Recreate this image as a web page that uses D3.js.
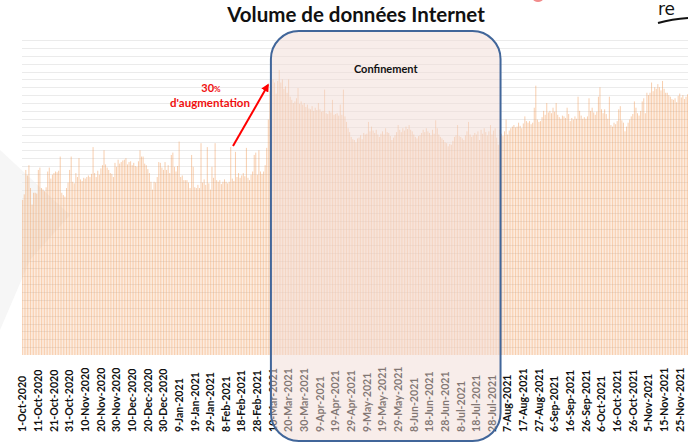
<!DOCTYPE html>
<html>
<head>
<meta charset="utf-8">
<script src="https://cdn.jsdelivr.net/npm/d3@7"></script>
<style>
  body { margin: 0; background: #fff; }
  svg { display: block; font-family: Lato, "Open Sans", sans-serif; }
</style>
</head>
<body>
<script>
var width = 688;
var height = 443;

// premier jour de la série
var startDate = new Date(2020, 9, 1);

// volume journalier, un rang = 10 jours
var volume = [
  19.7, 20.4, 23.5, 22.8, 24.1, 21.2, 19.1, 20.6, 20.6, 20.5,
  23.5, 23.8, 21.2, 21.0, 20.8, 21.3, 23.3, 23.8, 22.4, 22.9,
  23.1, 23.3, 23.2, 23.4, 25.2, 20.6, 20.3, 20.1, 21.2, 21.9,
  23.5, 25.2, 22.0, 21.8, 23.1, 22.6, 25.0, 22.3, 22.1, 22.5,
  22.4, 22.6, 22.8, 22.6, 23.0, 26.4, 23.1, 22.6, 23.4, 22.9,
  23.7, 24.1, 26.0, 24.2, 23.8, 23.5, 23.1, 23.0, 22.6, 24.4,
  23.9, 24.8, 24.3, 24.5, 24.7, 24.8, 25.0, 24.2, 24.5, 24.6,
  24.1, 24.4, 24.0, 23.9, 24.6, 26.0, 25.2, 25.2, 24.3, 24.1,
  23.6, 23.1, 22.0, 21.0, 22.0, 21.9, 22.6, 24.5, 24.4, 23.8,
  23.5, 24.5, 23.5, 24.1, 23.1, 25.4, 25.7, 23.9, 23.3, 24.0,
  27.1, 22.6, 22.8, 22.2, 22.2, 22.2, 21.9, 21.2, 25.4, 23.9,
  21.3, 21.2, 21.6, 21.2, 26.9, 21.9, 22.3, 21.6, 26.4, 21.8,
  21.0, 23.9, 22.5, 26.9, 22.2, 22.0, 22.2, 21.7, 22.0, 22.3,
  22.0, 21.8, 22.0, 26.4, 22.4, 22.1, 25.8, 22.6, 23.1, 22.5,
  22.8, 23.1, 22.7, 26.3, 22.5, 22.2, 22.9, 23.3, 25.4, 25.7,
  22.9, 26.0, 23.3, 23.0, 23.3, 24.1, 26.3, 29.9, 33.5, 34.2,
  35.0, 34.6, 33.2, 34.8, 36.2, 34.6, 35.0, 33.8, 34.1, 33.3,
  35.0, 32.8, 32.4, 32.0, 32.2, 32.6, 33.9, 31.9, 32.2, 31.8,
  32.0, 31.5, 31.8, 31.3, 31.2, 31.6, 31.0, 31.4, 31.1, 32.0,
  31.2, 30.9, 31.0, 33.7, 30.7, 30.6, 31.0, 30.8, 32.4, 30.5,
  30.6, 30.7, 30.4, 31.8, 30.5, 33.7, 30.3, 29.6, 28.8, 28.3,
  27.7, 27.4, 27.3, 27.0, 27.5, 27.6, 27.9, 27.4, 28.2, 28.0,
  28.1, 29.6, 28.4, 29.0, 28.5, 28.2, 28.6, 28.0, 27.7, 28.1,
  28.4, 28.0, 28.8, 28.3, 28.2, 27.8, 27.3, 27.6, 27.9, 28.3,
  29.2, 28.6, 28.3, 28.8, 28.5, 29.0, 28.7, 29.2, 28.6, 28.4,
  28.0, 27.7, 27.5, 27.8, 27.9, 28.2, 28.6, 28.3, 28.8, 28.4,
  28.2, 27.9, 28.6, 28.1, 29.8, 28.8, 28.0, 27.7, 27.5, 27.3,
  27.0, 26.9, 26.5, 26.8, 26.7, 27.2, 27.7, 27.9, 29.2, 27.8,
  27.7, 27.5, 27.3, 27.9, 28.4, 29.6, 28.0, 27.7, 27.9, 28.2,
  28.0, 28.4, 27.3, 28.6, 28.1, 28.8, 28.3, 27.9, 28.4, 29.2,
  28.0, 28.5, 28.8, 27.6, 26.7, 28.6, 28.1, 27.8, 28.4, 29.9,
  28.0, 28.5, 28.8, 29.0, 29.2, 28.9, 29.0, 29.5, 29.1, 28.8,
  29.4, 30.3, 29.7, 29.5, 29.7, 29.3, 29.5, 31.4, 34.2, 29.9,
  29.6, 29.7, 30.2, 31.0, 30.5, 32.0, 30.8, 31.0, 30.7, 31.4,
  30.9, 32.0, 30.5, 30.2, 30.0, 30.4, 30.3, 30.1, 31.4, 30.6,
  29.7, 30.1, 29.9, 30.3, 30.0, 32.8, 31.0, 30.4, 30.0, 30.2,
  30.0, 30.3, 32.6, 31.0, 31.4, 30.8, 30.5, 30.9, 32.8, 34.0,
  31.2, 30.7, 31.2, 30.6, 30.0, 32.8, 29.2, 29.0, 29.5, 29.3,
  29.7, 31.2, 31.6, 29.8, 29.5, 28.4, 29.0, 29.5, 29.9, 30.3,
  30.6, 32.2, 31.4, 30.7, 30.4, 31.0, 32.2, 32.6, 30.7, 33.3,
  33.0, 33.3, 34.6, 33.5, 34.0, 33.8, 34.4, 34.0, 33.6, 34.8,
  33.8, 33.3, 33.3, 33.0, 32.8, 32.5, 32.4, 32.6, 32.1, 32.9,
  33.2, 32.7, 33.0, 32.5, 32.8, 33.1, 32.6
];

// étiquettes de l'axe, une tous les 10 jours
var tickLabels = [
  "1-Oct-2020", "11-Oct-2020", "21-Oct-2020", "31-Oct-2020", "10-Nov-2020",
  "20-Nov-2020", "30-Nov-2020", "10-Dec-2020", "20-Dec-2020", "30-Dec-2020",
  "9-Jan-2021", "19-Jan-2021", "29-Jan-2021", "8-Feb-2021", "18-Feb-2021",
  "28-Feb-2021", "10-Mar-2021", "20-Mar-2021", "30-Mar-2021", "9-Apr-2021",
  "19-Apr-2021", "29-Apr-2021", "9-May-2021", "19-May-2021", "29-May-2021",
  "8-Jun-2021", "18-Jun-2021", "28-Jun-2021", "8-Jul-2021", "18-Jul-2021",
  "28-Jul-2021", "7-Aug-2021", "17-Aug-2021", "27-Aug-2021", "6-Sep-2021",
  "16-Sep-2021", "26-Sep-2021", "6-Oct-2021", "16-Oct-2021", "26-Oct-2021",
  "5-Nov-2021", "15-Nov-2021", "25-Nov-2021"
];

// période de confinement
var confStart = "10-Mar-2021";
var confEnd = "28-Jul-2021";

var days = volume.map(function(v, i){ return d3.timeDay.offset(startDate, i); });
var fmt = d3.timeFormat("%-d-%b-%Y");

var svg = d3.select("body").append("svg")
  .attr("width", width)
  .attr("height", height);

var step = 1.563;
var x = d3.scaleBand()
  .domain(days.map(fmt))
  .range([22.2, 22.2 + step * days.length])
  .paddingInner(0.4);

var y = d3.scaleLinear()
  .domain([0, 40])
  .range([355, 40]);

// fond gris léger à gauche
svg.append("path")
  .attr("d", "M0,150 L70,215 L30,260 L0,330 Z")
  .attr("fill", "#f6f6f6");

// grille
svg.append("g")
  .selectAll("line")
  .data(d3.range(1, 41))
  .enter()
  .append("line")
  .attr("x1", 22)
  .attr("x2", width)
  .attr("y1", function(d){ return Math.round(y(d)) + 0.5; })
  .attr("y2", function(d){ return Math.round(y(d)) + 0.5; })
  .attr("stroke", "#ebebeb")
  .attr("stroke-width", 1);

// barres
svg.append("g")
  .selectAll("rect")
  .data(volume)
  .enter()
  .append("rect")
  .attr("x", function(d, i){ return x(fmt(days[i])); })
  .attr("y", function(d){ return y(d); })
  .attr("width", x.bandwidth())
  .attr("height", function(d){ return y(0) - y(d); })
  .attr("fill", "#f29a55")
  .attr("fill-opacity", 0.5);

// étiquettes verticales
svg.append("g")
  .selectAll("text")
  .data(tickLabels)
  .enter()
  .append("text")
  .attr("transform", function(d){
    var cx = x(d) + x.bandwidth() / 2 + 3.8;
    return "translate(" + cx + ",432) rotate(-90)";
  })
  .attr("text-anchor", "start")
  .attr("font-size", 10.6)
  .attr("font-weight", "bold")
  .attr("fill", "#111")
  .text(function(d){ return d; });

// cadre du confinement
var bx0 = x(confStart) - 1.6;
var bx1 = x(confEnd) + 9;
svg.append("rect")
  .attr("x", bx0)
  .attr("y", 31)
  .attr("width", bx1 - bx0)
  .attr("height", 410)
  .attr("rx", 28)
  .attr("ry", 28)
  .attr("fill", "#f2dcd5")
  .attr("fill-opacity", 0.5)
  .attr("stroke", "#41669a")
  .attr("stroke-width", 2);

svg.append("text")
  .attr("x", (bx0 + bx1) / 2)
  .attr("y", 73)
  .attr("text-anchor", "middle")
  .attr("font-size", 11)
  .attr("font-weight", "bold")
  .attr("fill", "#111")
  .text("Confinement");

// titre
svg.append("text")
  .attr("x", 356)
  .attr("y", 22)
  .attr("text-anchor", "middle")
  .attr("font-size", 20.5)
  .attr("font-weight", "bold")
  .attr("fill", "#111")
  .text("Volume de données Internet");

// flèche rouge et annotation
svg.append("defs").append("marker")
  .attr("id", "head")
  .attr("viewBox", "0 0 10 10")
  .attr("refX", 8)
  .attr("refY", 5)
  .attr("markerWidth", 4)
  .attr("markerHeight", 4)
  .attr("orient", "auto")
  .append("path")
  .attr("d", "M0,0 L10,5 L0,10 Z")
  .attr("fill", "#f00");

svg.append("line")
  .attr("x1", 233)
  .attr("y1", 146)
  .attr("x2", 268)
  .attr("y2", 85)
  .attr("stroke", "#f00")
  .attr("stroke-width", 2)
  .attr("marker-end", "url(#head)");

var pct = svg.append("text")
  .attr("x", 211)
  .attr("y", 92)
  .attr("text-anchor", "middle")
  .attr("font-size", 11)
  .attr("font-weight", "bold")
  .attr("fill", "#f01010");
pct.append("tspan").text("30");
pct.append("tspan").attr("font-size", 8).text("%");

svg.append("text")
  .attr("x", 210)
  .attr("y", 107)
  .attr("text-anchor", "middle")
  .attr("font-size", 11.5)
  .attr("font-weight", "bold")
  .attr("fill", "#f01010")
  .text("d'augmentation");

// restes de la diapositive en haut à droite
svg.append("ellipse")
  .attr("cx", 538)
  .attr("cy", -1)
  .attr("rx", 5)
  .attr("ry", 3)
  .attr("fill", "#f28b8b");

svg.append("text")
  .attr("x", 658)
  .attr("y", 15)
  .attr("font-size", 17)
  .attr("font-family", "DejaVu Sans")
  .attr("fill", "#111")
  .text("re");

svg.append("path")
  .attr("d", "M658,23 Q672,19 688,18")
  .attr("fill", "none")
  .attr("stroke", "#111")
  .attr("stroke-width", 2);
</script>
</body>
</html>
